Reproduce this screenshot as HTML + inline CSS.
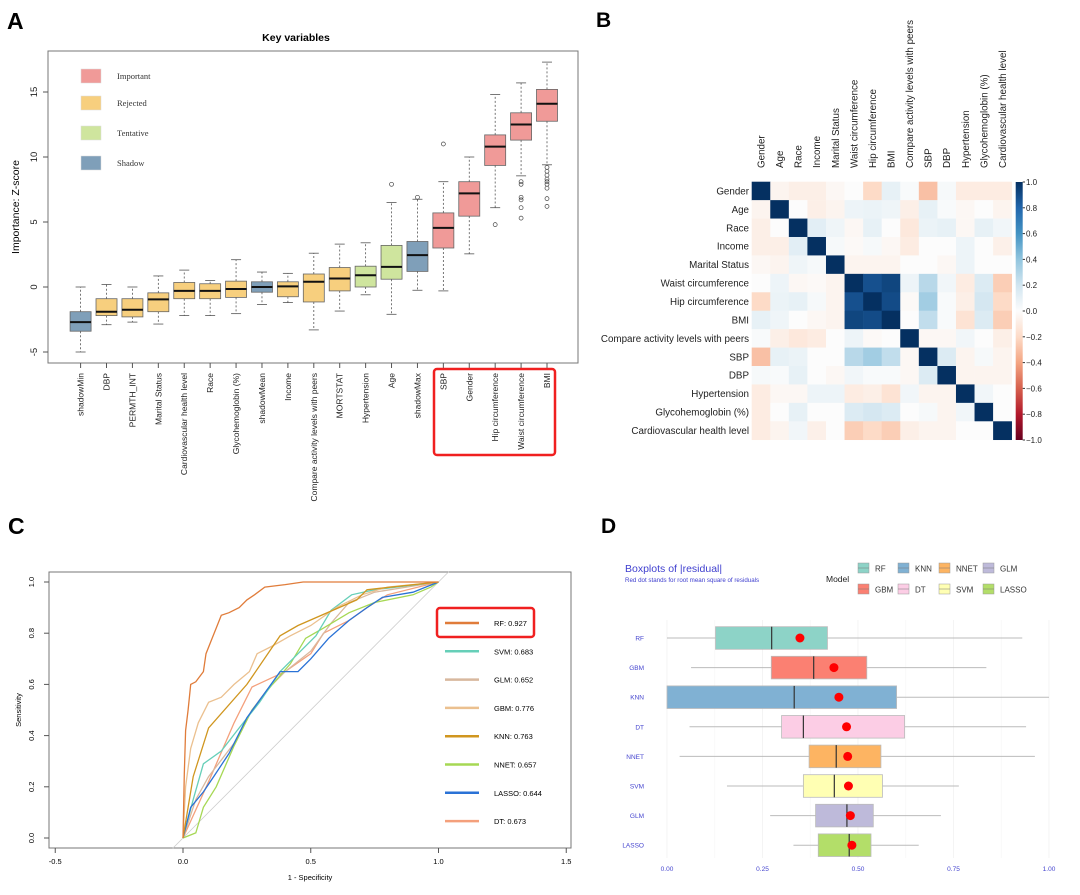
<!DOCTYPE html>
<html><head><meta charset="utf-8">
<style>
html,body{margin:0;padding:0;background:#fff;}
svg{display:block;font-family:"Liberation Sans",sans-serif;}
</style></head>
<body>
<svg id="fig" width="1080" height="895" viewBox="0 0 1080 895" xmlns="http://www.w3.org/2000/svg">
<rect x="0" y="0" width="1080" height="895" fill="#fff"/>
<text x="7" y="29" font-size="23" font-weight="bold">A</text>
<text x="596" y="27" font-size="21" font-weight="bold">B</text>
<text x="8" y="534" font-size="23" font-weight="bold">C</text>
<text x="601" y="533" font-size="21" font-weight="bold">D</text>
</svg>
<script>
// ---------- Panel A data ----------
const aVars=["shadowMin","DBP","PERMTH_INT","Marital Status","Cardiovascular health level","Race","Glycohemoglobin (%)","shadowMean","Income","Compare activity levels with peers","MORTSTAT","Hypertension","Age","shadowMax","SBP","Gender","Hip circumference","Waist circumference","BMI"];
const aStatus=["Shadow","Rejected","Rejected","Rejected","Rejected","Rejected","Rejected","Shadow","Rejected","Rejected","Rejected","Tentative","Tentative","Shadow","Important","Important","Important","Important","Important"];
const aLow=[-5,-2.9,-2.7,-2.85,-2.2,-2.2,-2.05,-1.35,-1.2,-3.3,-1.85,-0.6,-2.1,-0.25,-0.3,2.55,6.1,8.55,9.4];
const aQ1=[-3.4,-2.2,-2.3,-1.9,-0.9,-0.9,-0.8,-0.4,-0.75,-1.15,-0.3,0,0.6,1.2,3.0,5.45,9.35,11.3,12.75];
const aMed=[-2.7,-1.9,-1.75,-0.95,-0.3,-0.3,-0.15,0,0.05,0.4,0.65,0.9,1.55,2.45,4.55,7.2,10.8,12.5,14.1];
const aQ3=[-1.9,-0.9,-0.9,-0.45,0.35,0.25,0.45,0.4,0.4,1.0,1.5,1.6,3.2,3.5,5.7,8.1,11.7,13.4,15.2];
const aHigh=[0,0.2,0,0.85,1.3,0.5,2.1,1.15,1.05,2.6,3.3,3.4,6.5,6.75,8.1,10,14.8,15.7,17.3];
const aOut=[[],[],[],[],[],[],[],[],[],[],[],[],[7.9],[6.9],[11],[],[4.8],[8.1,7.9,6.9,6.7,6.1,5.3],[9.2,8.9,8.6,8.3,8.1,7.9,7.6,6.8,6.2]];
const aTicks=[-5,0,5,10,15];
const aLegend=["Important","Rejected","Tentative","Shadow"];
// ---------- Panel B data ----------
const bVars=["Gender","Age","Race","Income","Marital Status","Waist circumference","Hip circumference","BMI","Compare activity levels with peers","SBP","DBP","Hypertension","Glycohemoglobin (%)","Cardiovascular health level"];
const bCorr=[
[1,-0.05,-0.08,-0.08,-0.03,0,-0.2,0.1,0.02,-0.3,0.03,-0.1,-0.1,-0.1],
[-0.05,1,0,-0.08,-0.05,0.07,0.08,0.06,-0.08,0.1,0.02,-0.03,0,-0.05],
[-0.08,0,1,0.12,0.06,-0.03,0.1,0,-0.12,0.08,0.1,-0.03,0.1,0.05],
[-0.08,-0.08,0.12,1,0.03,-0.02,0.03,-0.03,-0.1,0,0,0.07,0,-0.07],
[-0.03,-0.05,0.06,0.03,1,-0.05,-0.05,-0.05,0,0,-0.03,0.07,0,0],
[0,0.07,-0.03,-0.02,-0.05,1,0.88,0.92,0.07,0.28,0.05,-0.1,0.15,-0.25],
[-0.2,0.08,0.1,0.03,-0.05,0.88,1,0.9,-0.02,0.35,0.02,-0.08,0.18,-0.2],
[0.1,0.06,0,-0.03,-0.05,0.92,0.9,1,0,0.25,0.02,-0.15,0.15,-0.25],
[0.02,-0.08,-0.12,-0.1,0,0.07,-0.02,0,1,-0.03,-0.03,0.05,0,-0.08],
[-0.3,0.1,0.08,0,0,0.28,0.35,0.25,-0.03,1,0.15,-0.05,0.03,-0.05],
[0.03,0.02,0.1,0,-0.03,0.05,0.02,0.02,-0.03,0.15,1,-0.05,-0.05,-0.05],
[-0.1,-0.03,-0.03,0.07,0.07,-0.1,-0.08,-0.15,0.05,-0.05,-0.05,1,0.05,0],
[-0.1,0,0.1,0,0,0.15,0.18,0.15,0,0.03,-0.05,0.05,1,0],
[-0.1,-0.05,0.05,-0.07,0,-0.25,-0.2,-0.25,-0.08,-0.05,-0.05,0,0,1]];
const bTicks=[1,0.8,0.6,0.4,0.2,0,-0.2,-0.4,-0.6,-0.8,-1];
// ---------- Panel C data ----------
const cModels=["RF","SVM","GLM","GBM","KNN","NNET","LASSO","DT"];
const cAUC=["0.927","0.683","0.652","0.776","0.763","0.657","0.644","0.673"];
const rfX=[0,0.005,0.01,0.02,0.03,0.05,0.08,0.09,0.11,0.13,0.15,0.18,0.22,0.25,0.28,0.32,0.4,0.47,1];
const rfY=[0,0.25,0.42,0.5,0.6,0.61,0.65,0.72,0.77,0.82,0.87,0.88,0.9,0.93,0.95,0.98,0.99,1,1];
const svmX=[0,0.04,0.08,0.15,0.22,0.3,0.38,0.45,0.52,0.58,0.66,0.75,1];
const svmY=[0,0.15,0.29,0.34,0.43,0.53,0.65,0.72,0.79,0.89,0.95,0.97,1];
const glmX=[0,0.05,0.1,0.2,0.27,0.33,0.4,0.5,0.58,0.65,0.75,1];
const glmY=[0,0.15,0.24,0.37,0.5,0.58,0.65,0.73,0.84,0.92,0.96,1];
const gbmX=[0,0.01,0.03,0.06,0.1,0.15,0.2,0.26,0.29,0.35,0.42,0.5,0.6,0.7,0.8,1];
const gbmY=[0,0.2,0.35,0.45,0.53,0.55,0.6,0.65,0.72,0.75,0.79,0.83,0.9,0.95,0.98,1];
const knnX=[0,0.04,0.1,0.25,0.38,0.45,0.68,0.72,1];
const knnY=[0,0.24,0.43,0.6,0.79,0.83,0.93,0.97,1];
const nnetX=[0,0.05,0.08,0.13,0.2,0.27,0.35,0.42,0.48,0.55,0.65,0.75,0.9,0.97,1];
const nnetY=[0,0.02,0.12,0.2,0.36,0.5,0.6,0.68,0.78,0.82,0.88,0.92,0.95,0.98,1];
const lassoX=[0,0.03,0.08,0.12,0.18,0.25,0.33,0.38,0.45,0.5,0.57,0.65,0.72,0.78,0.9,1];
const lassoY=[0,0.12,0.18,0.24,0.33,0.47,0.58,0.65,0.65,0.7,0.78,0.85,0.9,0.94,0.96,1];
const dtX=[0,0.1,0.2,0.27,0.4,0.5,0.55,0.65,0.72,0.8,1];
const dtY=[0,0.22,0.45,0.59,0.65,0.72,0.8,0.85,0.9,0.95,1];
const cXTicks=[-0.5,0,0.5,1,1.5];
const cYTicks=[0,0.2,0.4,0.6,0.8,1];
// ---------- Panel D data ----------
const dModels=["RF","GBM","KNN","DT","NNET","SVM","GLM","LASSO"];
const dLow=[0,0.063,0,0.059,0.033,0.157,0.27,0.331];
const dQ1=[0.127,0.273,0,0.3,0.372,0.357,0.389,0.396];
const dMed=[0.274,0.384,0.333,0.357,0.443,0.438,0.471,0.477];
const dQ3=[0.42,0.523,0.601,0.622,0.56,0.564,0.54,0.534];
const dHigh=[0.93,0.836,1,0.94,0.963,0.764,0.717,0.659];
const dRmse=[0.348,0.437,0.45,0.47,0.473,0.475,0.48,0.484];
const dTicks=[0,0.25,0.5,0.75,1];

const NS="http://www.w3.org/2000/svg";
const svg=document.getElementById('fig');
function mk(tag,attrs,parent){const e=document.createElementNS(NS,tag);for(const k in attrs)e.setAttribute(k,attrs[k]);(parent||svg).appendChild(e);return e;}
function tx(str,attrs,parent){const e=mk('text',attrs,parent);e.textContent=str;return e;}

// ================= PANEL A =================
(function(){
const g=mk('g',{});


const statusColor={Important:"#F09A98",Rejected:"#F7CF7E",Tentative:"#CFE59E",Shadow:"#7F9FB9"};
const yA=v=>287-v*13;
const xA=i=>80.6+i*(466.4/(aVars.length-1));
let t=tx("Key variables",{x:296,y:41,'font-size':10.5,'font-weight':'bold','text-anchor':'middle'},g);


let f=mk('rect',{x:48,y:51,width:530,height:312,fill:'none',stroke:'#777','stroke-width':1},g);


aTicks.forEach(v=>{
  mk('line',{x1:48,x2:43,y1:yA(v),y2:yA(v),stroke:'#555'},g);
  const l=tx(String(v),{x:37,y:yA(v),'font-size':9.5,'text-anchor':'middle',transform:`rotate(-90 37 ${yA(v)})`,fill:'#222'},g);
  
  
});
t=tx("Importance: Z-score",{x:19,y:207,'font-size':10.5,'text-anchor':'middle',transform:'rotate(-90 19 207)'},g);


aLegend.forEach((s,i)=>{
  const y=[76,103,133,163][i];
  const r=mk('rect',{x:81,y:y-7,width:20,height:14,fill:statusColor[s],stroke:'#ddd','stroke-width':0.5},g);
  
  
  const l=tx(s,{x:117,y:y+3,'font-size':8.5,'font-family':'Liberation Serif, serif',fill:'#333'},g);
  
  
});
aVars.forEach((name,i)=>{
  const x=xA(i),w=10.5;
  mk('line',{x1:x,x2:x,y1:yA(aQ3[i]),y2:yA(aHigh[i]),stroke:'#555','stroke-dasharray':'2,2','stroke-width':0.8},g);
  mk('line',{x1:x,x2:x,y1:yA(aQ1[i]),y2:yA(aLow[i]),stroke:'#555','stroke-dasharray':'2,2','stroke-width':0.8},g);
  mk('line',{x1:x-5,x2:x+5,y1:yA(aHigh[i]),y2:yA(aHigh[i]),stroke:'#555','stroke-width':0.8},g);
  mk('line',{x1:x-5,x2:x+5,y1:yA(aLow[i]),y2:yA(aLow[i]),stroke:'#555','stroke-width':0.8},g);
  const b=mk('rect',{x:x-w,y:yA(aQ3[i]),width:2*w,height:yA(aQ1[i])-yA(aQ3[i]),fill:statusColor[aStatus[i]],stroke:'#666','stroke-width':0.8},g);
  
  
  mk('line',{x1:x-w,x2:x+w,y1:yA(aMed[i]),y2:yA(aMed[i]),stroke:'#111','stroke-width':2},g);
  aOut[i].forEach(v=>{
    const c=mk('circle',{cx:x,cy:yA(v),r:2,fill:'none',stroke:'#444','stroke-width':0.7},g);
    
    
  });
  mk('line',{x1:x,x2:x,y1:363,y2:368,stroke:'#555'},g);
  const l=tx(name,{x:x+3,y:373,'font-size':8.5,'text-anchor':'end',transform:`rotate(-90 ${x+3} 373)`,fill:'#222'},g);
  
  
});
const hr=mk('rect',{x:434,y:369,width:121,height:86,rx:3,fill:'none',stroke:'#F02020','stroke-width':2.5},g);


})();

// ================= PANEL B =================
(function(){
const g=mk('g',{});


const stops=[[-1,[103,0,31]],[-0.8,[178,24,43]],[-0.6,[214,96,77]],[-0.4,[244,165,130]],[-0.2,[253,219,199]],[0,[252,252,252]],[0.2,[209,229,240]],[0.4,[146,197,222]],[0.6,[67,147,195]],[0.8,[33,102,172]],[1,[5,48,97]]];
function col(v){for(let k=0;k<stops.length-1;k++){const a=stops[k],b=stops[k+1];if(v<=b[0]){const t=(v-a[0])/(b[0]-a[0]);const c=a[1].map((x,j)=>Math.round(x+(b[1][j]-x)*t));return `rgb(${c})`;}}return 'rgb(5,48,97)';}
const x0=751.7,y0=181.7,cw=18.57,ch=18.43;
bVars.forEach((rn,i)=>{
  bVars.forEach((cn,j)=>{
    const r=mk('rect',{x:x0+j*cw,y:y0+i*ch,width:cw+0.3,height:ch+0.3,fill:col(bCorr[i][j])},g);
    
    
  });
  const l=tx(rn,{x:749,y:y0+i*ch+ch/2+3.5,'font-size':9.8,'text-anchor':'end',fill:'#222'},g);
  
  
  const cx=x0+i*cw+cw/2+3.5;
  const c=tx(rn,{x:cx,y:168,'font-size':9.8,'text-anchor':'start',transform:`rotate(-90 ${cx} 168)`,fill:'#222'},g);
  
  
});
const defs=mk('defs',{},g);
const lg=mk('linearGradient',{id:'rdbu',x1:0,y1:0,x2:0,y2:1},defs);
stops.slice().reverse().forEach(s=>mk('stop',{offset:((1-s[0])/2*100)+'%','stop-color':`rgb(${s[1]})`},lg));
const cb=mk('rect',{x:1015.7,y:182,width:7,height:258,fill:'url(#rdbu)'},g);


bTicks.forEach(v=>{
  const y=182+(1-v)/2*258;
  mk('line',{x1:1022.7,x2:1025,y1:y,y2:y,stroke:'#333'},g);
  const l=tx((v<0?'\u2212':'')+Math.abs(v).toFixed(1),{x:1026,y:y+3,'font-size':8,fill:'#222'},g);
  
  
});
})();

// ================= PANEL C =================
(function(){
const g=mk('g',{});


const xC=v=>183+v*255.5, yC=v=>838-v*256;
const f=mk('rect',{x:49,y:572,width:522,height:276,fill:'none',stroke:'#777'},g);


const d=mk('line',{x1:xC(-0.04),y1:yC(-0.04),x2:xC(1.04),y2:yC(1.04),stroke:'#ccc','stroke-width':0.8},g);


cXTicks.forEach(v=>{
  mk('line',{x1:xC(v),x2:xC(v),y1:848,y2:853,stroke:'#555'},g);
  const l=tx(v.toFixed(1),{x:xC(v),y:864,'font-size':7.5,'text-anchor':'middle'},g);
  
  
});
cYTicks.forEach(v=>{
  mk('line',{x1:49,x2:44,y1:yC(v),y2:yC(v),stroke:'#555'},g);
  const l=tx(v.toFixed(1),{x:34,y:yC(v),'font-size':7.5,'text-anchor':'middle',transform:`rotate(-90 34 ${yC(v)})`},g);
  
  
});
let t=tx("1 - Specificity",{x:310,y:880,'font-size':7.5,'text-anchor':'middle'},g);


t=tx("Sensitivity",{x:21,y:710,'font-size':7.5,'text-anchor':'middle',transform:'rotate(-90 21 710)'},g);


const series=[[dtX,dtY,"#F4A07C","DT"],[glmX,glmY,"#D8B89E","GLM"],[nnetX,nnetY,"#A6D854","NNET"],[svmX,svmY,"#66CFB8","SVM"],[lassoX,lassoY,"#2A72D6","LASSO"],[gbmX,gbmY,"#EBC08F","GBM"],[knnX,knnY,"#D0961F","KNN"],[rfX,rfY,"#E07C3A","RF"]];
series.forEach(s=>{
  const pts=s[0].map((x,k)=>xC(x).toFixed(1)+','+yC(s[1][k]).toFixed(1)).join(' ');
  const p=mk('polyline',{points:pts,fill:'none',stroke:s[2],'stroke-width':1.3},g);
  
  
});
const legColors={RF:"#E07C3A",SVM:"#66CFB8",GLM:"#D8B89E",GBM:"#EBC08F",KNN:"#D0961F",NNET:"#A6D854",LASSO:"#2A72D6",DT:"#F4A07C"};
cModels.forEach((m,i)=>{
  const y=623+i*28.3;
  mk('line',{x1:445,x2:479,y1:y,y2:y,stroke:legColors[m],'stroke-width':2.5},g);
  const l=tx(m+": "+cAUC[i],{x:494,y:y+3,'font-size':7.5},g);
  
  
});
const hr=mk('rect',{x:437,y:608,width:97,height:29,rx:3,fill:'none',stroke:'#F02020','stroke-width':2.5},g);


})();

// ================= PANEL D =================
(function(){
const g=mk('g',{});


const cols={RF:"#8DD3C7",GBM:"#FB8072",KNN:"#80B1D3",DT:"#FCCDE5",NNET:"#FDB462",SVM:"#FFFFB3",GLM:"#BEBADA",LASSO:"#B3DE69"};
const xD=v=>667+v*382, yD=i=>638+i*29.6;
for(let k=0;k<=8;k++){const v=k/8;mk('line',{x1:xD(v),x2:xD(v),y1:620,y2:858,stroke:k%2?'#f5f5f5':'#ececec','stroke-width':0.6},g);}
let t=tx("Boxplots of |residual|",{x:625,y:572,'font-size':10.5,fill:'#3F3FCF'},g);


t=tx("Red dot stands for root mean square of residuals",{x:625,y:582,'font-size':6.2,fill:'#3F3FCF'},g);


t=tx("Model",{x:826,y:582,'font-size':8.5,fill:'#222'},g);


const legOrder=["RF","KNN","NNET","GLM","GBM","DT","SVM","LASSO"];
legOrder.forEach((m,k)=>{
  const x=[858,898,939,983][k%4], y=k<4?568:589;
  const r=mk('rect',{x:x,y:y-5,width:11,height:10,fill:cols[m],stroke:'#999','stroke-width':0.5},g);
  
  
  mk('line',{x1:x,x2:x+11,y1:y,y2:y,stroke:'#777','stroke-width':0.5},g);
  const l=tx(m,{x:x+17,y:y+3.5,'font-size':8,fill:'#333'},g);
  
  
});
dModels.forEach((m,i)=>{
  const y=yD(i),h=11.3;
  mk('line',{x1:xD(dLow[i]),x2:xD(dHigh[i]),y1:y,y2:y,stroke:'#bbb','stroke-width':1},g);
  const b=mk('rect',{x:xD(dQ1[i]),y:y-h,width:Math.max(xD(dQ3[i])-xD(dQ1[i]),0.5),height:2*h,fill:cols[m],stroke:'#bbb','stroke-width':0.8},g);
  
  
  mk('line',{x1:xD(dMed[i]),x2:xD(dMed[i]),y1:y-h,y2:y+h,stroke:'#333','stroke-width':1.2},g);
  const c=mk('circle',{cx:xD(dRmse[i]),cy:y,r:4.5,fill:'#FF0000'},g);
  
  
  const l=tx(m,{x:644,y:y+2.5,'font-size':6.5,'text-anchor':'end',fill:'#4545CF'},g);
  
  
});
dTicks.forEach(v=>{
  const l=tx(v.toFixed(2),{x:xD(v),y:871,'font-size':6.5,'text-anchor':'middle',fill:'#4545CF'},g);
  
  
});
})();
</script>
</body></html>
